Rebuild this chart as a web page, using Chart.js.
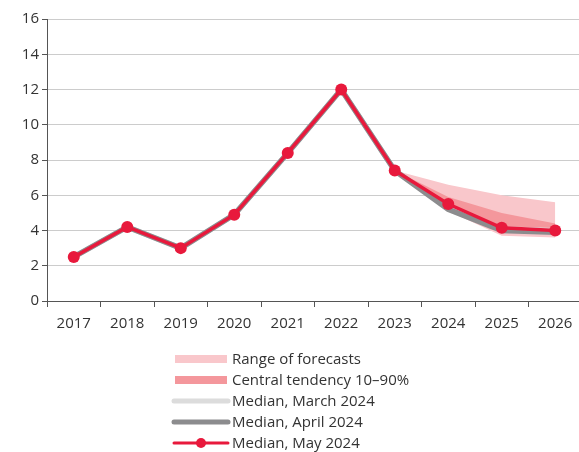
<!DOCTYPE html>
<html>
<head>
<meta charset="utf-8">
<script src="https://cdn.jsdelivr.net/npm/chart.js@4.4.1/dist/chart.umd.min.js"></script>
<style>
  html, body { margin: 0; padding: 0; background: #fff; overflow: hidden; }
  /* canvas runs slightly wider than the window so the last category is cut at the edge */
  #chart { display: block; }
</style>
</head>
<body>
<canvas id="chart" width="588" height="452"></canvas>
<script>
var years = ["2017", "2018", "2019", "2020", "2021", "2022", "2023", "2024", "2025", "2026"];

// medians of the forecasts, history shared by all three
var medianMay = [2.5, 4.2, 3.0, 4.9, 8.4, 12.0, 7.4, 5.5, 4.15, 4.0];
var medianApril = [2.5, 4.2, 3.0, 4.9, 8.4, 12.0, 7.4, 5.2, 4.0, 3.9];
var medianMarch = [2.5, 4.2, 3.0, 4.9, 8.4, 12.0, 7.4, 5.3, 4.1, 4.0];

// forecast bands
var rangeHigh = [null, null, null, null, null, null, 7.4, 6.6, 6.0, 5.6];
var rangeLow = [null, null, null, null, null, null, 7.4, 5.1, 3.7, 3.6];
var centralHigh = [null, null, null, null, null, null, 7.4, 5.9, 5.0, 4.4];
var centralLow = [null, null, null, null, null, null, 7.4, 5.2, 3.9, 3.8];

var yTicks = [0, 2, 4, 6, 8, 10, 12, 14, 16];

var red = "#e8193c";
var rangeColor = "#f9c7cb";
var centralColor = "#f4979c";
var marchColor = "#dcdcdc";
var aprilColor = "#8c8c8e";
var textColor = "#333333";
var axisColor = "#555555";
var fontFamily = "'Open Sans', sans-serif";

var legendItems = [
  { text: "Range of forecasts", kind: "box", color: rangeColor },
  { text: "Central tendency 10\u201390%", kind: "box", color: centralColor },
  { text: "Median, March 2024", kind: "line", color: marchColor },
  { text: "Median, April 2024", kind: "line", color: aprilColor },
  { text: "Median, May 2024", kind: "dot", color: red },
];

// legend stacked one item per row under the x axis
const stackedLegend = {
  id: "stackedLegend",
  afterDraw(chart) {
    const ctx = chart.ctx;
    const x0 = 174, x1 = 228, textX = 232;
    let y = 359;
    ctx.save();
    ctx.font = "15px " + fontFamily;
    ctx.textBaseline = "middle";
    ctx.fillStyle = textColor;
    legendItems.forEach((item) => {
      if (item.kind == "box") {
        ctx.fillStyle = item.color;
        ctx.fillRect(x0 + 1, y - 4, x1 - x0 - 2, 8);
      } else {
        ctx.strokeStyle = item.color;
        ctx.lineCap = "round";
        ctx.lineWidth = item.kind == "dot" ? 3 : 5;
        ctx.beginPath();
        ctx.moveTo(x0, y);
        ctx.lineTo(x1, y);
        ctx.stroke();
        if (item.kind == "dot") {
          ctx.fillStyle = item.color;
          ctx.beginPath();
          ctx.arc((x0 + x1) / 2, y, 5, 0, Math.PI * 2);
          ctx.fill();
        }
      }
      ctx.fillStyle = textColor;
      ctx.fillText(item.text, textX, y + 1);
      y += 21;
    });
    ctx.restore();
  },
};

const band = (data, color, fill, order) => ({
  data: data,
  borderWidth: 0,
  pointRadius: 0,
  backgroundColor: color,
  fill: fill,
  order: order,
});

new Chart(document.getElementById("chart"), {
  type: "line",
  data: {
    labels: years,
    datasets: [
      band(rangeHigh, rangeColor, "+1", 5),
      band(rangeLow, rangeColor, false, 5),
      band(centralHigh, centralColor, "+1", 4),
      band(centralLow, centralColor, false, 4),
      {
        label: "Median, March 2024",
        data: medianMarch,
        borderColor: marchColor,
        borderWidth: 5,
        pointRadius: 0,
        fill: false,
        order: 3,
      },
      {
        label: "Median, April 2024",
        data: medianApril,
        borderColor: aprilColor,
        borderWidth: 5.5,
        pointRadius: 0,
        fill: false,
        order: 2,
      },
      {
        label: "Median, May 2024",
        data: medianMay,
        borderColor: red,
        backgroundColor: red,
        borderWidth: 3.5,
        pointRadius: 6,
        pointBorderWidth: 0,
        fill: false,
        order: 1,
      },
    ],
  },
  options: {
    responsive: false,
    animation: false,
    layout: { padding: { top: 19, right: 3, bottom: 117, left: 0 } },
    plugins: {
      legend: { display: false },
      tooltip: { enabled: false },
    },
    scales: {
      x: {
        offset: true,
        grid: {
          offset: true,
          drawOnChartArea: false,
          tickLength: 6,
          tickColor: axisColor,
        },
        border: { color: axisColor, width: 1 },
        ticks: {
          color: textColor,
          font: { family: fontFamily, size: 15 },
          padding: 8,
          maxRotation: 0,
        },
        afterFit: (scale) => { scale.height = 34; },
      },
      y: {
        min: 0,
        max: 16,
        afterBuildTicks: (scale) => {
          scale.ticks = yTicks.map((v) => ({ value: v }));
        },
        grid: {
          color: "#cccccc",
          tickColor: axisColor,
          tickLength: 5,
        },
        border: { color: axisColor, width: 1 },
        ticks: {
          color: textColor,
          font: { family: fontFamily, size: 15 },
          padding: 3,
        },
        afterFit: (scale) => { scale.width = 47; },
      },
    },
  },
  plugins: [stackedLegend],
});
</script>
</body>
</html>
